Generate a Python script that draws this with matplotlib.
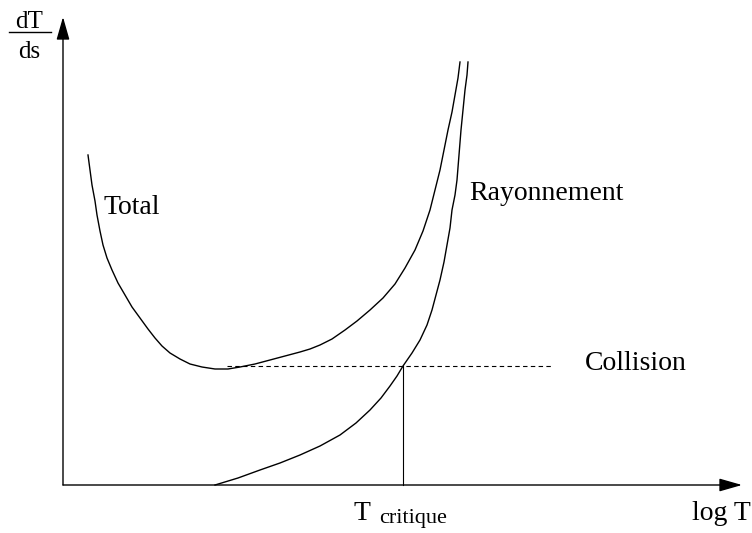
import matplotlib.pyplot as plt

plt.rcParams['font.family'] = ['Liberation Serif', 'DejaVu Serif']

# curve points (pixel coordinates, y downwards)
total_x = [88, 90, 92, 95, 97, 100, 103, 107, 112, 118, 125, 132, 140, 148, 155, 162, 170, 180, 190, 202,
           215, 228, 240, 255, 270, 285, 300, 310, 320, 332, 345, 357, 370, 383, 395, 405, 415, 423,
           430, 435, 440, 444, 448, 452, 455, 458, 460]
total_y = [155, 170, 185, 201, 215, 231, 245, 258, 270, 283, 295, 307, 318, 329, 338, 346, 353, 359, 364, 367,
           369, 369, 367, 364, 360, 356, 352, 349, 345, 339, 330, 321, 310, 298, 284, 268, 250, 231,
           210, 190, 170, 150, 130, 112, 95, 78, 62]

ray_x = [215, 238, 260, 280, 300, 320, 340, 356, 370, 381, 390, 397, 403, 412, 420, 427, 432, 436,
         440, 444, 447, 450, 452, 455, 457, 459, 461, 463, 465, 467, 468]
ray_y = [485, 478, 470, 463, 455, 446, 435, 423, 410, 398, 386, 376, 366, 353, 340, 325, 310, 295,
         280, 262, 245, 228, 210, 195, 180, 155, 130, 110, 90, 75, 62]

collision_y = 366
collision_x = [227, 552]
t_crit = 403
origin = (63, 485)
x_tip = 742
y_tip = 17

fig = plt.figure(figsize=(7.52, 5.33), dpi=100)
ax = fig.add_axes([0, 0, 1, 1])
ax.set_xlim(0, 752)
ax.set_ylim(533, 0)
ax.axis('off')

arrow = dict(arrowstyle='-|>,head_length=1.4,head_width=0.4', color='black', lw=1.0,
             shrinkA=0, shrinkB=0)
ax.annotate('', xy=(x_tip, origin[1]), xytext=origin, arrowprops=arrow)
ax.annotate('', xy=(origin[0], y_tip), xytext=origin, arrowprops=arrow)

ax.plot(total_x, total_y, color='black', lw=1.0)
ax.plot(ray_x, ray_y, color='black', lw=1.0)
ax.plot(collision_x, [collision_y, collision_y], color='black', lw=0.8, linestyle=(0, (4, 3)))
ax.plot([t_crit, t_crit], [collision_y, origin[1]], color='black', lw=0.8)

fs = 20
ax.text(29, 28, 'dT', fontsize=18, ha='center', va='baseline')
ax.plot([9, 51], [32, 32], color='black', lw=1.0)
ax.text(29, 58, 'ds', fontsize=18, ha='center', va='baseline')

ax.text(104, 214, 'Total', fontsize=fs, va='baseline')
ax.text(469, 200, 'Rayonnement', fontsize=fs, va='baseline')
ax.text(585, 370, 'Collision', fontsize=fs, va='baseline')
ax.text(354, 520, 'T', fontsize=fs, va='baseline')
ax.text(379, 523, 'critique', fontsize=16, va='baseline')
ax.text(692, 520, 'log T', fontsize=fs, va='baseline')

fig.savefig('out.png', dpi=100)
